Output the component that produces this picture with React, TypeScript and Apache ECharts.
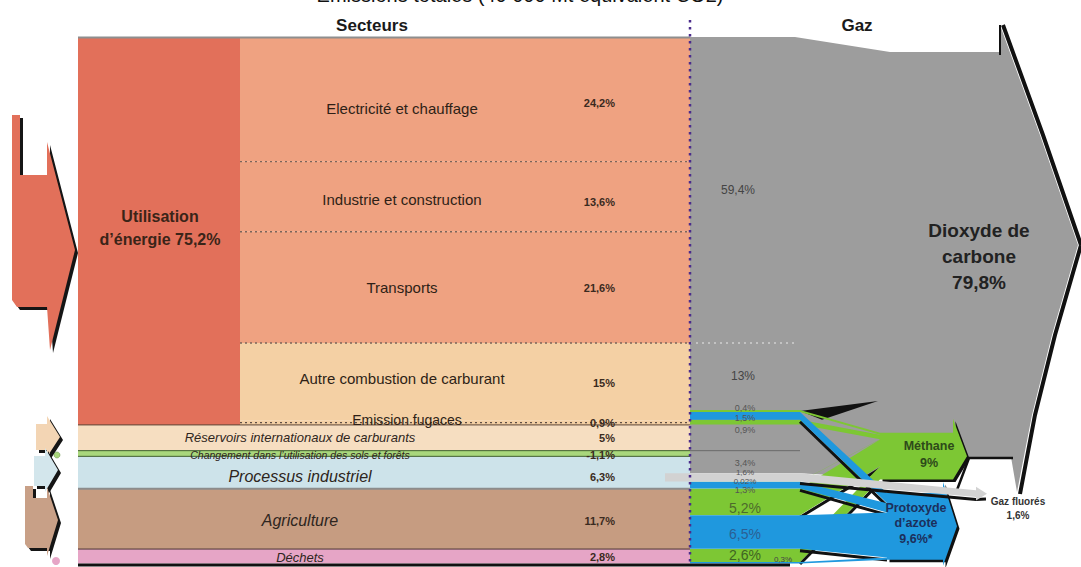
import React, { useEffect, useRef } from "react";
import * as echarts from "echarts";

// ---------------- data ----------------
const sectorNames = [
  "Electricité et chauffage",
  "Industrie et construction",
  "Transports",
  "Autre combustion de carburant",
  "Emission fugaces",
];
const sectorValues = [24.2, 13.6, 21.6, 15, 0.9];
const sectorLabels = ["24,2%", "13,6%", "21,6%", "15%", "0,9%"];
const energyTitle = "Utilisation\nd’énergie 75,2%";

const otherNames = [
  "Réservoirs internationaux de carburants",
  "Changement dans l’utilisation des sols et forêts",
  "Processus industriel",
  "Agriculture",
  "Déchets",
];
const otherValues = [5, -1.1, 6.3, 11.7, 2.8];
const otherLabels = ["5%", "-1,1%", "6,3%", "11,7%", "2,8%"];

const gasNames = [
  "Dioxyde de\ncarbone\n79,8%",
  "Méthane\n9%",
  "Protoxyde\nd’azote\n9,6%*",
  "Gaz fluorés\n1,6%",
];
// gas index per strip: 0 CO2, 1 CH4, 2 N2O, 3 fluorés
const stripGas = [0, 0, 1, 2, 1, 0, 0, 0, 3, 1, 2, 1, 2, 1, 2];
const stripValues = [59.4, 13, 0.4, 1.5, 0.9, 5, 1.1, 3.4, 1.6, 0.02, 1.3, 5.2, 6.5, 2.6, 0.3];
const stripLabels = ["59,4%", "13%", "0,4%", "1,5%", "0,9%", "", "", "3,4%", "1,6%", "0,02%", "1,3%", "5,2%", "6,5%", "2,6%", "0,3%"];

const titleText = "Émissions totales (40 000 Mt équivalent CO2)";

// ---------------- layout / styles ----------------
const FONT = "'Liberation Sans', Arial, Helvetica, sans-serif";
const X_LEFT = 78, X_SPLIT = 240, X_MID = 690, X_STRIP = 800;
const Y_MAX = 102.3;
const ENERGY_COLOR = "#E2705A";
const SECTOR_COLORS = ["#EFA281", "#EFA281", "#EFA281", "#F4D0A4", "#F4D0A4"];
const OTHER_COLORS = ["#F6DEC1", "#A9D77C", "#CDE3EA", "#C69C81", "#E6A5C6"];
const GAS_COLORS = ["#9D9D9D", "#7DC734", "#1F98DE", "#D2D2D2"];
const sectorNameDy = [9, 3, 0, -3, -3];
const sectorValDy = [4, 5, 1, 1, 0];
const sectorNameX = [402, 402, 402, 402, 407];
const sectorNameSize = [15, 15, 15, 15, 14];
const otherNameSize = [13, 10.5, 16, 16, 13];
const otherNameDy = [0, 1, 4, 2, 1];
const stripLabelDy = [0, 0, -3, 2, 8, 0, 0, -2, -5, 0, 5, 6, 2, 0, -3];
const stripLabelDx = [-7, -2, 0, 0, 0, 0, 0, 0, 0, 0, 0, 0, 0, 0, 38];
const stripLabelSize = [12, 12, 9, 9, 9, 9, 9, 9, 8, 8, 9, 14, 14, 14, 8];
const stripLabelColor = ["#444", "#444", "#555", "#555", "#555", "#555", "#555", "#555", "#555", "#555", "#555", "#4d6b2c", "#2b5f93", "#3f6422", "#444"];
// targets for gases 1..3: body x, start value, scale
const TARGET_X = [0, 880, 887, 976];
const TARGET_V = [0, 76.8, 88.5, 88.0];
const TARGET_K = [0, 1, 1.35, 0.8];

const t = (text: string, x: number, y: number, o: any = {}) => {
  const style: any = {
    text, x, y,
    fill: o.fill ?? "#2a1d15",
    fontSize: o.size ?? 12,
    fontWeight: o.weight ?? "normal",
    fontStyle: o.style ?? "normal",
    fontFamily: FONT,
    align: o.align ?? "center",
    verticalAlign: "middle",
  };
  if (o.lh) style.lineHeight = o.lh;
  return { type: "text", style };
};

const renderItem = (_params: any, api: any) => {
  const X = (x: number) => api.coord([x, 0])[0];
  const Y = (v: number) => api.coord([0, v])[1];
  const ch: any[] = [];
  const rect = (x0: number, x1: number, y0: number, y1: number, fill: string) =>
    ch.push({ type: "rect", shape: { x: X(x0), y: y0, width: X(x1) - X(x0), height: y1 - y0 }, style: { fill } });
  const line = (x1: number, y1: number, x2: number, y2: number, stroke: string, w: number, dash?: number[]) =>
    ch.push({ type: "line", shape: { x1: X(x1), y1, x2: X(x2), y2 }, style: { stroke, lineWidth: w, lineDash: dash } });
  const poly = (pts: number[][], fill: string) =>
    ch.push({ type: "polygon", shape: { points: pts.map((p) => [X(p[0]), p[1]]) }, style: { fill } });
  const pline = (pts: number[][], stroke: string, w: number) =>
    ch.push({ type: "polyline", shape: { points: pts.map((p) => [X(p[0]), p[1]]) }, style: { stroke, lineWidth: w, fill: null } });

  // ----- left sector blocks -----
  let c = 0;
  const sectorSpans = sectorValues.map((v) => { const s = [c, c + v]; c += v; return s; });
  const energyEnd = c;
  const otherSpans = otherValues.map((v) => { const s = [c, c + Math.abs(v)]; c += Math.abs(v); return s; });
  const totalEnd = c;

  rect(X_LEFT, X_SPLIT, Y(0), Y(energyEnd), ENERGY_COLOR);
  sectorSpans.forEach((s, i) => rect(X_SPLIT, X_MID, Y(s[0]), Y(s[1]), SECTOR_COLORS[i]));
  otherSpans.forEach((s, i) => rect(X_LEFT, X_MID, Y(s[0]), Y(s[1]), OTHER_COLORS[i]));

  // ----- gas strips & flows -----
  let sc = 0;
  const strips = stripValues.map((v) => { const s = [sc, sc + v]; sc += v; return s; });
  let co2Bottom = 0;
  strips.forEach((s, i) => { if (stripGas[i] === 0) co2Bottom = s[1]; });
  const cursor = TARGET_V.slice();
  const flows: any[] = [];
  strips.forEach((s, i) => {
    const g = stripGas[i];
    if (g === 0) return;
    const t0 = cursor[g];
    const t1 = t0 + stripValues[i] * TARGET_K[g];
    cursor[g] = t1;
    flows.push({ g, v0: s[0], v1: s[1], t0, t1, x: TARGET_X[g], val: stripValues[i] });
  });

  // CO2 big shape (shadow outline first)
  pline([[1003, 25], [1043, 135], [1081, 245], [1055, 335], [1035, 415], [1020, 494]], "#111", 4);
  poly([
    [X_MID, Y(0)], [795, Y(0)], [890, 52], [1000, 52], [1000, 25], [1040, 135], [1078, 245],
    [1052, 335], [1032, 415], [1017, 492], [1011, 457], [968, 457], [950, 478], [880, 478],
    [X_STRIP, Y(co2Bottom)], [X_MID, Y(co2Bottom)],
  ], GAS_COLORS[0]);
  line(1000, 25, 1000, 55, "#111", 2);
  pline([[1013, 458], [969, 458], [957, 490]], "#111", 2.5);
  // dotted extension on grey
  line(X_MID, Y(sectorSpans[2][1]), 795, Y(sectorSpans[2][1]), "#cfcfcf", 1.3, [2, 4]);
  line(X_MID, Y(otherSpans[0][1]), X_STRIP, Y(otherSpans[0][1]), "#6a6a6a", 1);
  // black wedge near fugitive emissions
  poly([[X_STRIP, Y(strips[2][0]) + 1], [878, 401], [822, Y(strips[3][1])]], "#111");

  const drawFlows = (g: number) => {
    flows.filter((f) => f.g === g).forEach((f) => {
      if (f.val >= 1) pline([[X_STRIP, Y(f.v1) + 2], [f.x, Y(f.t1) + 2.5]], "#111", 3);
      poly([[X_MID, Y(f.v0)], [X_STRIP, Y(f.v0)], [f.x, Y(f.t0)], [f.x, Y(f.t1)], [X_STRIP, Y(f.v1)], [X_MID, Y(f.v1)]], GAS_COLORS[g]);
    });
  };
  const arrow = (g: number, x1: number, top: number, bot: number, tipDx: number, barbUp: number, barbDn: number) => {
    const x0 = TARGET_X[g];
    const mid = (top + bot) / 2;
    const pts = [[x0, top], [x1, top], [x1, top - barbUp], [x1 + tipDx, mid], [x1, bot + barbDn], [x1, bot], [x0, bot]];
    poly(pts.map((p) => [p[0] + 2.5, p[1] + 2.5]), "#111");
    poly(pts, GAS_COLORS[g]);
  };

  // methane
  drawFlows(1);
  arrow(1, 953, Y(TARGET_V[1]), Y(cursor[1]), 14, 14, 0);
  // N2O
  drawFlows(2);
  arrow(2, 943, Y(TARGET_V[2]), Y(cursor[2]), 14, 11, 6);
  // fluorinated gases
  flows.filter((f) => f.g === 3).forEach((f) => {
    pline([[X_STRIP, Y(f.v1) + 2], [f.x, Y(f.t1) + 2.5], [f.x + 10, Y(f.t1) + 2]], "#111", 3);
    poly([[665, Y(f.v0)], [X_STRIP, Y(f.v0)], [f.x, Y(f.t0)], [f.x, Y(f.t0) - 3.5], [f.x + 11, (Y(f.t0) + Y(f.t1)) / 2], [f.x, Y(f.t1) + 3.5], [f.x, Y(f.t1)], [X_STRIP, Y(f.v1)], [665, Y(f.v1)]], GAS_COLORS[3]);
  });

  // ----- separators on the left -----
  line(X_LEFT, Y(0) + 0.5, X_MID, Y(0) + 0.5, "#8e8e8e", 2);
  for (let i = 0; i < 3; i++) line(X_SPLIT, Y(sectorSpans[i][1]), X_MID, Y(sectorSpans[i][1]), "#7b655a", 1.3, [2, 3]);
  const fugMid = (sectorSpans[4][0] + sectorSpans[4][1]) / 2;
  line(X_SPLIT, Y(fugMid), X_MID, Y(fugMid), "#5e4e46", 1.3, [2, 3]);
  line(X_LEFT, Y(energyEnd), X_MID, Y(energyEnd), "#5c4636", 1);
  line(X_LEFT, Y(otherSpans[1][0]), X_MID, Y(otherSpans[1][0]), "#3e5e2a", 1);
  line(X_LEFT, Y(otherSpans[1][1]), X_MID, Y(otherSpans[1][1]), "#3e5e2a", 1);
  line(X_LEFT, Y(otherSpans[2][1]), X_MID, Y(otherSpans[2][1]), "#8c8c8c", 2);
  line(X_LEFT, Y(otherSpans[3][1]), X_MID, Y(otherSpans[3][1]), "#4b3535", 1);
  line(X_LEFT, Y(totalEnd) + 1.5, 790, Y(totalEnd) + 1.5, "#111", 3);

  // purple vertical dotted line
  line(X_MID, 20, X_MID, 566, "#4b2c8c", 2.5, [2.5, 4.5]);

  // ----- texts -----
  ch.push(t(energyTitle, 160, Y(energyEnd / 2) - 3, { size: 16, weight: "bold", fill: "#3a2418", lh: 23 }));
  sectorSpans.forEach((s, i) => {
    const m = Y((s[0] + s[1]) / 2);
    ch.push(t(sectorNames[i], sectorNameX[i], m + sectorNameDy[i], { size: sectorNameSize[i], fill: "#2e1f16" }));
    ch.push(t(sectorLabels[i], 615, m + sectorValDy[i], { size: 11, weight: "bold", align: "right", fill: "#3a2a20" }));
  });
  otherSpans.forEach((s, i) => {
    const m = Y((s[0] + s[1]) / 2);
    ch.push(t(otherNames[i], 300, m + otherNameDy[i], { size: otherNameSize[i], style: "italic", fill: "#2e2520" }));
    ch.push(t(otherLabels[i], 615, m + otherNameDy[i], { size: 11, weight: "bold", align: "right", fill: "#3a2a20" }));
  });
  strips.forEach((s, i) => {
    if (!stripLabels[i]) return;
    const m = Y((s[0] + s[1]) / 2);
    ch.push(t(stripLabels[i], 745 + stripLabelDx[i], m + stripLabelDy[i], { size: stripLabelSize[i], fill: stripLabelColor[i] }));
  });
  ch.push(t(gasNames[0], 979, 256, { size: 19, weight: "bold", fill: "#222", lh: 26 }));
  ch.push(t(gasNames[1], 929, (Y(TARGET_V[1]) + Y(cursor[1])) / 2 - 2, { size: 12.5, weight: "bold", fill: "#2d4a1a", lh: 17 }));
  ch.push(t(gasNames[2], 916, (Y(TARGET_V[2]) + Y(cursor[2])) / 2 - 3, { size: 12.5, weight: "bold", fill: "#1c2f5c", lh: 15.5 }));
  ch.push(t(gasNames[3], 1018, 508, { size: 10, weight: "bold", fill: "#333", lh: 14 }));

  return { type: "group", children: ch };
};

const shifted = (pts: number[][], d: number) => pts.map((p) => [p[0] + d, p[1] + d]);
const bigArrow = [[12, 115], [20, 115], [20, 175], [47, 175], [47, 142], [75, 250], [50, 350], [47, 307], [17, 307], [12, 300]];
const resArrow = [[36, 424], [47, 424], [47, 416], [60, 437], [47, 457], [47, 450], [36, 450]];
const procArrow = [[34, 456], [45, 456], [45, 448], [58, 470], [45, 492], [45, 486], [34, 486]];
const agriArrow = [[25, 486], [33, 486], [33, 498], [47, 498], [47, 487], [58, 520], [47, 556], [47, 548], [28, 548], [25, 544]];
const decoPolys: [number[][], string][] = [
  [bigArrow, ENERGY_COLOR],
  [resArrow, "#F3D5B4"],
  [procArrow, "#D3E6EC"],
  [agriArrow, "#C8A087"],
];

export default function App() {
  const ref = useRef<HTMLDivElement>(null);
  useEffect(() => {
    document.body.style.margin = "0";
    const chart = echarts.init(ref.current!, null, { renderer: "svg" });
    const graphic: any[] = [];
    decoPolys.forEach(([pts, fill]) => {
      graphic.push({ type: "polygon", shape: { points: shifted(pts, 3) }, style: { fill: "#151515" } });
      graphic.push({ type: "polygon", shape: { points: pts }, style: { fill } });
    });
    graphic.push({ type: "circle", shape: { cx: 57, cy: 455, r: 3 }, style: { fill: "#A9D77C", stroke: "#5c8a3a", lineWidth: 0.5 } });
    graphic.push({ type: "circle", shape: { cx: 56, cy: 561, r: 4 }, style: { fill: "#E6A5C6" } });
    graphic.push({ type: "text", x: 520, y: -15, style: { text: titleText, fontSize: 20, fontFamily: FONT, fill: "#111", align: "center", verticalAlign: "top" } });
    graphic.push({ type: "text", x: 372, y: 25, style: { text: "Secteurs", fontSize: 17, fontWeight: "bold", fontFamily: FONT, fill: "#1a1a1a", align: "center", verticalAlign: "middle" } });
    graphic.push({ type: "text", x: 857, y: 25, style: { text: "Gaz", fontSize: 17, fontWeight: "bold", fontFamily: FONT, fill: "#1a1a1a", align: "center", verticalAlign: "middle" } });

    chart.setOption({
      animation: false,
      grid: { left: 0, right: 0, top: 37, bottom: 3 },
      xAxis: { type: "value", min: 0, max: 1081, show: false },
      yAxis: { type: "value", min: 0, max: Y_MAX, inverse: true, show: false },
      graphic,
      series: [
        {
          type: "custom",
          silent: true,
          clip: false,
          renderItem,
          data: [[0, 0]],
        },
      ],
    });
    return () => chart.dispose();
  }, []);
  return <div ref={ref} style={{ width: 1081, height: 567 }} />;
}
